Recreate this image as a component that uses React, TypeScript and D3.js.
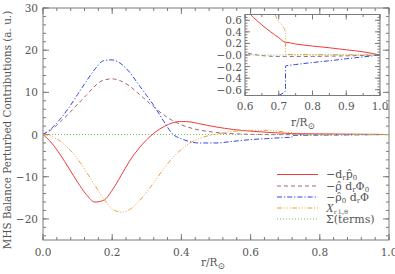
import React from "react";
import * as d3 from "d3";

// radius grid (r / R_sun); 0.72 appears twice (base of convection zone jump)
const radius = [0, 0.025, 0.05, 0.075, 0.1, 0.125, 0.15, 0.175, 0.2, 0.225, 0.25, 0.275, 0.3, 0.325, 0.35, 0.375, 0.4, 0.425, 0.45, 0.5, 0.55, 0.6, 0.65, 0.7, 0.72, 0.7201, 0.75, 0.8, 0.85, 0.9, 0.95, 1.0];

const dPressure = [0, -2.0, -4.8, -8.0, -11.3, -14.2, -16.0, -15.6, -13.2, -9.8, -6.3, -3.5, -1.2, 0.6, 1.9, 2.8, 3.1, 3.0, 2.6, 1.8, 1.2, 0.8, 0.52, 0.3, 0.22, 0.22, 0.19, 0.155, 0.125, 0.09, 0.055, 0];
const rhoHatTerm = [0, 1.2, 3.0, 5.0, 7.2, 9.3, 11.5, 12.9, 13.2, 12.7, 11.5, 9.8, 8.0, 6.2, 4.6, 3.3, 2.3, 1.6, 1.1, 0.5, 0.2, 0.05, -0.01, -0.025, -0.025, -0.025, -0.025, -0.025, -0.02, -0.015, -0.008, 0];
const phiHatTerm = [0, 1.5, 3.7, 6.4, 9.5, 12.6, 15.5, 17.5, 17.7, 16.8, 14.8, 12.0, 9.2, 6.3, 3.0, 0.1, -1.0, -1.7, -2.0, -2.0, -1.6, -1.2, -0.95, -0.7, -0.62, -0.19, -0.165, -0.13, -0.1, -0.065, -0.033, 0];
const lorentzTerm = [0, -0.4, -1.6, -3.4, -5.8, -8.8, -12.0, -15.2, -17.6, -18.4, -17.8, -16.0, -13.6, -10.8, -8.0, -5.5, -3.5, -2.0, -1.0, 0.1, 0.75, 1.0, 1.0, 0.58, 0.4, 0.01, 0.01, 0.008, 0.006, 0.004, 0.002, 0];
const sumTerms = [0, 0, 0, 0, 0, 0, 0, 0, 0, 0, 0, 0, 0, 0, 0, 0, 0, 0, 0, 0, 0, 0, 0, 0, 0, 0, 0, 0, 0, 0, 0, 0];

const xTicks = [0, 0.2, 0.4, 0.6, 0.8, 1.0];
const yTicks = [30, 20, 10, 0, -10, -20];
const yTickLabels = ["30", "20", "10", "0", "\u221210", "\u221220"];
const insetXTicks = [0.6, 0.7, 0.8, 0.9, 1.0];
const insetYTicks = [0.6, 0.4, 0.2, 0, -0.2, -0.4, -0.6];
const insetYLabels = ["0.6", "0.4", "0.2", "\u22120.0", "\u22120.2", "\u22120.4", "\u22120.6"];

const series = [
  { key: "dp", values: dPressure, color: "#ee3b3b", dash: "" },
  { key: "rho", values: rhoHatTerm, color: "#a8607e", dash: "4,3" },
  { key: "phi", values: phiHatTerm, color: "#3545e6", dash: "5,2,1.2,2" },
  { key: "lor", values: lorentzTerm, color: "#f0a040", dash: "5,1.8,1,1.8,1,1.8,1,1.8" },
  { key: "sum", values: sumTerms, color: "#6cc060", dash: "1,2" },
];

const FONT = "'DejaVu Serif', 'Liberation Serif', serif";
const AXIS = "#7a7a7a";
const TXT = "#555";

const App: React.FC = () => {
  const W = 395;
  const H = 274;
  const m = { left: 43, right: 389, top: 8, bottom: 240 };
  const x = d3.scaleLinear().domain([0, 1]).range([m.left, m.right]);
  const y = d3.scaleLinear().domain([-25, 30]).range([m.bottom, m.top]);

  const ins = { left: 245, right: 380, top: 14.5, bottom: 95.5 };
  const ix = d3.scaleLinear().domain([0.6, 1.0]).range([ins.left, ins.right]);
  const iy = d3.scaleLinear().domain([-0.7, 0.7]).range([ins.bottom, ins.top]);

  const mainLine = (vals: number[]) =>
    d3
      .line<number>()
      .x((_, i) => x(radius[i]))
      .y((d) => y(d))
      .curve(d3.curveMonotoneX)(vals) || "";
  const insetLine = (vals: number[]) =>
    d3
      .line<number>()
      .x((_, i) => ix(radius[i]))
      .y((d) => iy(d))
      .curve(d3.curveMonotoneX)(vals) || "";

  const xMinor = d3.range(0, 1.0001, 0.04);
  const yMinor = d3.range(-24, 30.001, 2);
  const ixMinor = d3.range(0.6, 1.0001, 0.05);
  const iyMinor = d3.range(-0.65, 0.7001, 0.05);

  const sub = 7;
  const legend = [
    { s: series[0], label: (
      <>
        {"\u2212d"}<tspan dy={2} fontSize={sub}>r</tspan><tspan dy={-2}>{"p\u0302"}</tspan><tspan dy={2} fontSize={sub}>0</tspan>
      </>
    ) },
    { s: series[1], label: (
      <>
        {"\u2212\u03c1\u0302 d"}<tspan dy={2} fontSize={sub}>r</tspan><tspan dy={-2}>{"\u03a6"}</tspan><tspan dy={2} fontSize={sub}>0</tspan>
      </>
    ) },
    { s: series[2], label: (
      <>
        {"\u2212\u03c1\u0302"}<tspan dy={2} fontSize={sub}>0</tspan><tspan dy={-2}>{" d"}</tspan><tspan dy={2} fontSize={sub}>r</tspan><tspan dy={-2}>{"\u03a6"}</tspan>
      </>
    ) },
    { s: series[3], label: (
      <>
        <tspan fontStyle="italic" fontFamily="'Liberation Serif', serif" fontSize={12.5}>X</tspan><tspan dy={2} fontSize={6}>{"r L,\u03b8"}</tspan>
      </>
    ) },
    { s: series[4], label: <>{"\u03a3(terms)"}</> },
  ];
  const legendY = [174.5, 186, 197, 208, 219];

  return (
    <svg width={W} height={H} style={{ position: "absolute", left: 0, top: 0 }} fontFamily={FONT}>
      <rect width={W} height={H} fill="white" />
      <defs>
        <clipPath id="mainClip">
          <rect x={m.left} y={m.top} width={m.right - m.left} height={m.bottom - m.top} />
        </clipPath>
        <clipPath id="insetClip">
          <rect x={ins.left} y={ins.top} width={ins.right - ins.left} height={ins.bottom - ins.top} />
        </clipPath>
      </defs>

      {/* main frame + ticks */}
      <rect x={m.left} y={m.top} width={m.right - m.left} height={m.bottom - m.top} fill="none" stroke={AXIS} strokeWidth={1} />
      {xMinor.map((t, i) => (
        <g key={"xm" + i} stroke={AXIS}>
          <line x1={x(t)} x2={x(t)} y1={m.bottom} y2={m.bottom - 3} />
          <line x1={x(t)} x2={x(t)} y1={m.top} y2={m.top + 3} />
        </g>
      ))}
      {xTicks.map((t) => (
        <g key={"xt" + t}>
          <line x1={x(t)} x2={x(t)} y1={m.bottom} y2={m.bottom - 6} stroke={AXIS} />
          <line x1={x(t)} x2={x(t)} y1={m.top} y2={m.top + 6} stroke={AXIS} />
          <text x={x(t)} y={256} textAnchor="middle" fontSize={10.5} fill={TXT}>{t.toFixed(1)}</text>
        </g>
      ))}
      {yMinor.map((t, i) => (
        <g key={"ym" + i} stroke={AXIS}>
          <line x1={m.left} x2={m.left + 3} y1={y(t)} y2={y(t)} />
          <line x1={m.right} x2={m.right - 3} y1={y(t)} y2={y(t)} />
        </g>
      ))}
      {yTicks.map((t, i) => (
        <g key={"yt" + t}>
          <line x1={m.left} x2={m.left + 6} y1={y(t)} y2={y(t)} stroke={AXIS} />
          <line x1={m.right} x2={m.right - 6} y1={y(t)} y2={y(t)} stroke={AXIS} />
          <text x={38} y={y(t) + 4} textAnchor="end" fontSize={10.5} fill={TXT}>{yTickLabels[i]}</text>
        </g>
      ))}
      <text transform="translate(11,130) rotate(-90)" textAnchor="middle" fontSize={10.4} fill={TXT}>
        MHS Balance Perturbed Contributions (a. u.)
      </text>
      <text x={213} y={266} textAnchor="middle" fontSize={10.5} fill={TXT}>
        r/R<tspan dy={3} fontSize={9}>{"\u2299"}</tspan>
      </text>

      {/* main curves */}
      <g clipPath="url(#mainClip)">
        {series.map((s) => (
          <path key={s.key} d={mainLine(s.values)} fill="none" stroke={s.color} strokeWidth={1} strokeDasharray={s.dash} />
        ))}
      </g>

      {/* legend */}
      {legend.map((l, i) => (
        <g key={"lg" + i}>
          <line x1={277} x2={318} y1={legendY[i]} y2={legendY[i]} stroke={l.s.color} strokeWidth={1} strokeDasharray={l.s.dash} />
          <text x={326} y={legendY[i] + 3.5} fontSize={11} fill={TXT}>{l.label}</text>
        </g>
      ))}

      {/* inset */}
      <rect x={ins.left} y={ins.top} width={ins.right - ins.left} height={ins.bottom - ins.top} fill="white" />
      <g clipPath="url(#insetClip)">
        {series.map((s) => (
          <path key={"i" + s.key} d={insetLine(s.values)} fill="none" stroke={s.color} strokeWidth={1} strokeDasharray={s.dash} />
        ))}
      </g>
      <rect x={ins.left} y={ins.top} width={ins.right - ins.left} height={ins.bottom - ins.top} fill="none" stroke={AXIS} />
      {ixMinor.map((t, i) => (
        <g key={"ixm" + i} stroke={AXIS}>
          <line x1={ix(t)} x2={ix(t)} y1={ins.bottom} y2={ins.bottom - 2.5} />
          <line x1={ix(t)} x2={ix(t)} y1={ins.top} y2={ins.top + 2.5} />
        </g>
      ))}
      {insetXTicks.map((t) => (
        <g key={"ixt" + t}>
          <line x1={ix(t)} x2={ix(t)} y1={ins.bottom} y2={ins.bottom - 5} stroke={AXIS} />
          <line x1={ix(t)} x2={ix(t)} y1={ins.top} y2={ins.top + 5} stroke={AXIS} />
          <text x={ix(t)} y={110} textAnchor="middle" fontSize={10.5} fill={TXT}>{t.toFixed(1)}</text>
        </g>
      ))}
      {iyMinor.map((t, i) => (
        <g key={"iym" + i} stroke={AXIS}>
          <line x1={ins.left} x2={ins.left + 2.5} y1={iy(t)} y2={iy(t)} />
          <line x1={ins.right} x2={ins.right - 2.5} y1={iy(t)} y2={iy(t)} />
        </g>
      ))}
      {insetYTicks.map((t, i) => (
        <g key={"iyt" + i}>
          <line x1={ins.left} x2={ins.left + 5} y1={iy(t)} y2={iy(t)} stroke={AXIS} />
          <line x1={ins.right} x2={ins.right - 5} y1={iy(t)} y2={iy(t)} stroke={AXIS} />
          <text x={ins.left - 3} y={iy(t) + 4} textAnchor="end" fontSize={10.5} fill={TXT}>{insetYLabels[i]}</text>
        </g>
      ))}
      <text x={303} y={126} textAnchor="middle" fontSize={10.5} fill={TXT}>
        r/R<tspan dy={3} fontSize={9}>{"\u2299"}</tspan>
      </text>
    </svg>
  );
};

export default App;
